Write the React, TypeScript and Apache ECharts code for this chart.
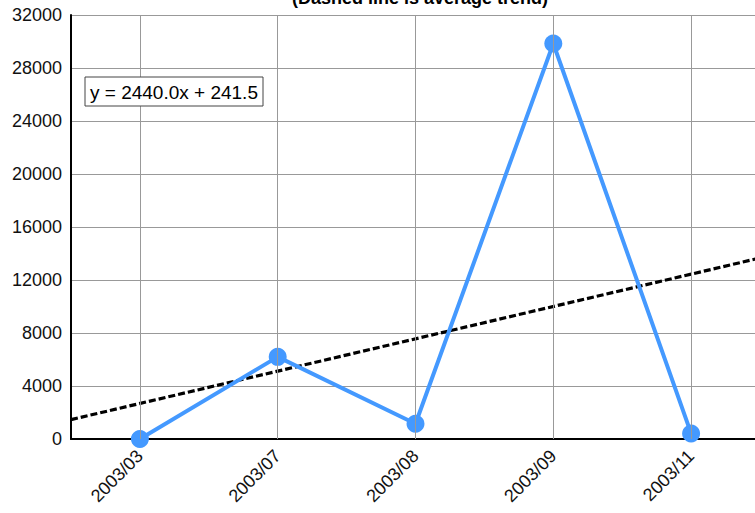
import React, { useEffect, useRef } from "react";
import * as echarts from "echarts";

const categories = ["2003/03", "2003/07", "2003/08", "2003/09", "2003/11"];
const values = [0, 6200, 1150, 29850, 420];
const trendSlope = 2440.0;
const trendIntercept = 241.5;
const yTicks = { min: 0, max: 32000, interval: 4000 };
const titleText = "(Dashed line is average trend)";
const equationText = "y = 2440.0x + 241.5";

const FONT = "Liberation Sans, Arial, sans-serif";

export default function App() {
  const ref = useRef<HTMLDivElement>(null);
  useEffect(() => {
    if (!ref.current) return;
    const chart = echarts.init(ref.current, undefined, { renderer: "svg" });
    const x0 = 0.5;
    const x1 = categories.length + 0.5;
    const trendData = [
      [x0, trendSlope * x0 + trendIntercept],
      [x1, trendSlope * x1 + trendIntercept],
    ];
    chart.setOption({
      animation: false,
      backgroundColor: "#ffffff",
      textStyle: { fontFamily: FONT },
      grid: {
        left: 71,
        top: 15,
        width: 689,
        height: 424,
        containLabel: false,
        outerBoundsMode: "none",
      },
      xAxis: [
        {
          type: "category",
          data: categories,
          boundaryGap: true,
          axisLine: { show: true, lineStyle: { color: "#000", width: 2 } },
          axisTick: { show: false },
          splitLine: { show: false },
          axisLabel: {
            rotate: 45,
            fontSize: 18,
            color: "#111",
            margin: 14,
            fontFamily: FONT,
          },
        },
        {
          type: "value",
          min: x0,
          max: x1,
          show: false,
          splitLine: { show: false },
        },
      ],
      yAxis: {
        type: "value",
        min: yTicks.min,
        max: yTicks.max,
        interval: yTicks.interval,
        axisLine: { show: true, lineStyle: { color: "#000", width: 2 } },
        axisTick: { show: false },
        splitLine: { show: true, lineStyle: { color: "#999", width: 1 } },
        axisLabel: {
          fontSize: 18,
          color: "#111",
          margin: 9,
          fontFamily: FONT,
          formatter: (v: number) => String(v),
        },
      },
      series: [
        {
          name: "vgrid",
          type: "line",
          xAxisIndex: 1,
          z: 0,
          data: [[1, null]],
          symbol: "none",
          silent: true,
          markLine: {
            silent: true,
            symbol: "none",
            label: { show: false },
            lineStyle: { color: "#999", width: 1, type: "solid" },
            data: categories.map((_, i) => ({ xAxis: i + 1 })),
          },
        },
        {
          name: "trend",
          type: "line",
          xAxisIndex: 1,
          z: 2,
          data: trendData,
          symbol: "none",
          lineStyle: { color: "#000", width: 3.2, type: [7, 3] },
        },
        {
          name: "values",
          type: "line",
          z: 3,
          data: values,
          symbol: "circle",
          symbolSize: 18,
          itemStyle: { color: "#4499ff" },
          lineStyle: { color: "#4499ff", width: 4 },
        },
      ],
      graphic: [
        {
          type: "text",
          x: 420,
          y: -2,
          style: {
            text: titleText,
            font: `bold 18px ${FONT}`,
            fill: "#000",
            textAlign: "center",
            textVerticalAlign: "middle",
          },
        },
        {
          type: "rect",
          shape: { x: 85, y: 77, width: 178, height: 29 },
          style: { fill: "#fff", stroke: "#444", lineWidth: 1 },
          z: 10,
        },
        {
          type: "text",
          x: 90,
          y: 92,
          z: 11,
          style: {
            text: equationText,
            font: `19px ${FONT}`,
            fill: "#000",
            textAlign: "left",
            textVerticalAlign: "middle",
          },
        },
      ],
    });
    return () => chart.dispose();
  }, []);
  return <div ref={ref} style={{ width: 755, height: 513, position: "absolute", left: 0, top: 0 }} />;
}
